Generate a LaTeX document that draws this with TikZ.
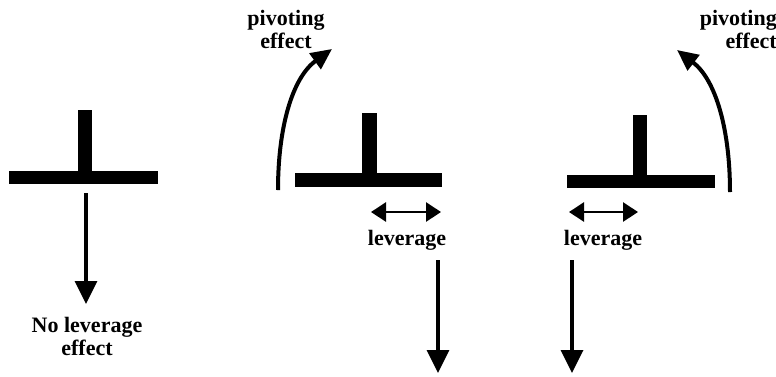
\documentclass[tikz,border=0pt]{standalone}
\usepackage{fontspec}
\setmainfont{Liberation Serif}
\usetikzlibrary{arrows.meta}
\begin{document}
\begin{tikzpicture}[x=1pt,y=-1pt,
  bar/.style={fill=black,draw=none},
  lbl/.style={font=\fontsize{22}{23}\selectfont\bfseries,inner sep=0pt},
  force/.style={line width=3.5pt,-{Triangle[width=22pt,length=23pt]}},
  pivot/.style={line width=4pt,-{Triangle[width=19pt,length=21pt]}},
  lev/.style={line width=2.8pt,{Triangle[width=19pt,length=15pt]}-{Triangle[width=19pt,length=15pt]}}]
\useasboundingbox (0,0) rectangle (776,376);
% left T
\fill[bar] (9,171) rectangle (158,184);
\fill[bar] (78,110) rectangle (92,177);
\coordinate (a1) at (86,193);
\coordinate (a2) at (86,304);
\draw[force] (a1) -- (a2);
\node[lbl,align=center] (nolev) at (87,336) {No leverage\\effect};
% middle T
\fill[bar] (295,173) rectangle (442,187);
\fill[bar] (362,113) rectangle (377,180);
\coordinate (p1) at (278,190);
\coordinate (p2) at (332,49);
\draw[pivot] (p1) .. controls (278,128) and (292,78) .. (p2);
\node[lbl,align=center] (piv1) at (286,29) {pivoting\\effect};
\coordinate (l1) at (371,212);
\coordinate (l2) at (441,212);
\draw[lev] (l1) -- (l2);
\node[lbl] (lev1) at (407,240) {leverage};
\coordinate (d1) at (438,260);
\coordinate (d2) at (438,373);
\draw[force] (d1) -- (d2);
% right T
\fill[bar] (567,175) rectangle (715,188);
\fill[bar] (633,115) rectangle (647,180);
\coordinate (q1) at (730,192);
\coordinate (q2) at (677,50);
\draw[pivot] (q1) .. controls (730,130) and (716,80) .. (q2);
\node[lbl,align=right,anchor=east] (piv2) at (777,29) {pivoting\\effect};
\coordinate (m1) at (569,212);
\coordinate (m2) at (638,212);
\draw[lev] (m1) -- (m2);
\node[lbl] (lev2) at (603,240) {leverage};
\coordinate (e1) at (572,260);
\coordinate (e2) at (572,373);
\draw[force] (e1) -- (e2);
\end{tikzpicture}
\end{document}
